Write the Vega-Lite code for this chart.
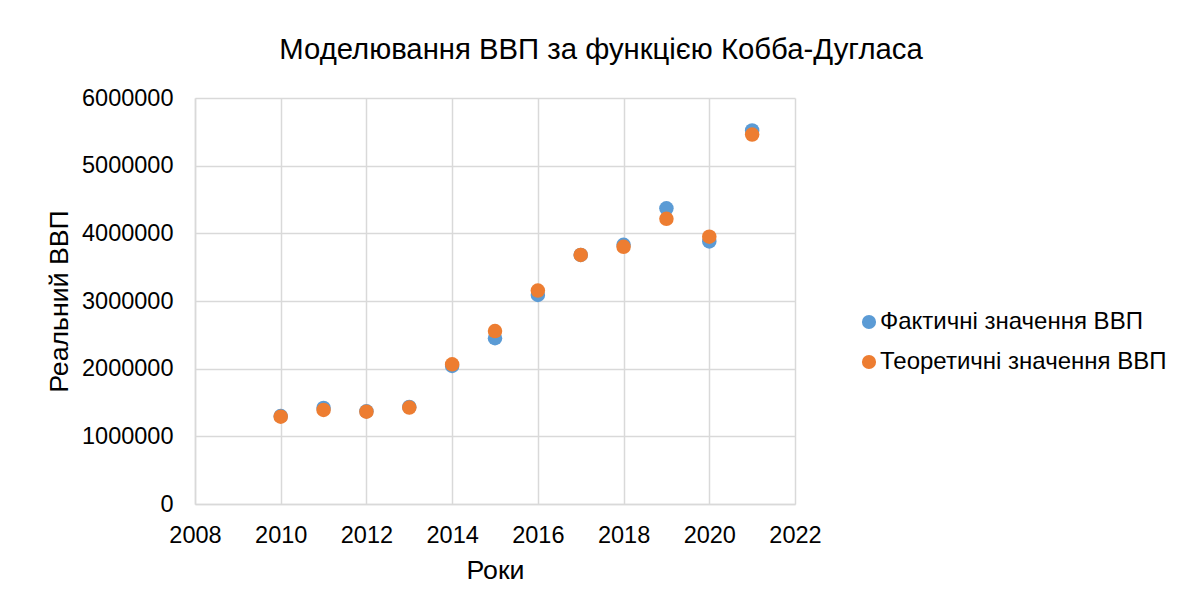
{
  "$schema": "https://vega.github.io/schema/vega-lite/v6.json",
  "width": 600,
  "height": 406,
  "autosize": {"type": "none"},
  "padding": {"left": 195, "top": 98, "right": 387, "bottom": 108},
  "background": "white",
  "config": {
    "font": "Liberation Sans",
    "view": {"stroke": null}
  },
  "title": {
    "text": "Моделювання ВВП за функцією Кобба-Дугласа",
    "fontSize": 29.3,
    "fontWeight": "normal",
    "color": "#000000",
    "anchor": "middle",
    "dx": 106,
    "offset": 21
  },
  "data": {
    "values": [
      {"year": 2010, "value": 1300000, "series": "Фактичні значення ВВП"},
      {"year": 2011, "value": 1420000, "series": "Фактичні значення ВВП"},
      {"year": 2012, "value": 1370000, "series": "Фактичні значення ВВП"},
      {"year": 2013, "value": 1435000, "series": "Фактичні значення ВВП"},
      {"year": 2014, "value": 2040000, "series": "Фактичні значення ВВП"},
      {"year": 2015, "value": 2450000, "series": "Фактичні значення ВВП"},
      {"year": 2016, "value": 3090000, "series": "Фактичні значення ВВП"},
      {"year": 2017, "value": 3680000, "series": "Фактичні значення ВВП"},
      {"year": 2018, "value": 3830000, "series": "Фактичні значення ВВП"},
      {"year": 2019, "value": 4370000, "series": "Фактичні значення ВВП"},
      {"year": 2020, "value": 3880000, "series": "Фактичні значення ВВП"},
      {"year": 2021, "value": 5520000, "series": "Фактичні значення ВВП"},
      {"year": 2010, "value": 1290000, "series": "Теоретичні значення ВВП"},
      {"year": 2011, "value": 1390000, "series": "Теоретичні значення ВВП"},
      {"year": 2012, "value": 1365000, "series": "Теоретичні значення ВВП"},
      {"year": 2013, "value": 1425000, "series": "Теоретичні значення ВВП"},
      {"year": 2014, "value": 2065000, "series": "Теоретичні значення ВВП"},
      {"year": 2015, "value": 2555000, "series": "Теоретичні значення ВВП"},
      {"year": 2016, "value": 3155000, "series": "Теоретичні значення ВВП"},
      {"year": 2017, "value": 3680000, "series": "Теоретичні значення ВВП"},
      {"year": 2018, "value": 3800000, "series": "Теоретичні значення ВВП"},
      {"year": 2019, "value": 4215000, "series": "Теоретичні значення ВВП"},
      {"year": 2020, "value": 3950000, "series": "Теоретичні значення ВВП"},
      {"year": 2021, "value": 5460000, "series": "Теоретичні значення ВВП"}
    ]
  },
  "mark": {"type": "circle", "size": 210, "opacity": 1},
  "encoding": {
    "x": {
      "field": "year",
      "type": "quantitative",
      "scale": {"domain": [2008, 2022], "nice": false, "zero": false},
      "axis": {
        "title": "Роки",
        "titleFontSize": 26.7,
        "titleFontWeight": "normal",
        "titleColor": "#000000",
        "titlePadding": 11,
        "values": [2008, 2010, 2012, 2014, 2016, 2018, 2020, 2022],
        "format": "d",
        "labelFontSize": 23.5,
        "labelColor": "#000000",
        "labelPadding": 19,
        "labelFlush": false,
        "labelOverlap": false,
        "ticks": false,
        "grid": true,
        "gridColor": "#d9d9d9",
        "gridWidth": 1.5,
        "domainColor": "#d9d9d9",
        "domainWidth": 1.5
      }
    },
    "y": {
      "field": "value",
      "type": "quantitative",
      "scale": {"domain": [0, 6000000], "nice": false},
      "axis": {
        "title": "Реальний ВВП",
        "titleFontSize": 26.7,
        "titleFontWeight": "normal",
        "titleColor": "#000000",
        "titlePadding": 8,
        "values": [0, 1000000, 2000000, 3000000, 4000000, 5000000, 6000000],
        "format": "d",
        "labelFontSize": 23.5,
        "labelColor": "#000000",
        "labelPadding": 22,
        "labelFlush": false,
        "labelOverlap": false,
        "ticks": false,
        "grid": true,
        "gridColor": "#d9d9d9",
        "gridWidth": 1.5,
        "domainColor": "#d9d9d9",
        "domainWidth": 1.5
      }
    },
    "color": {
      "field": "series",
      "type": "nominal",
      "sort": ["Фактичні значення ВВП", "Теоретичні значення ВВП"],
      "scale": {
        "domain": ["Фактичні значення ВВП", "Теоретичні значення ВВП"],
        "range": ["#5B9BD5", "#ED7D31"]
      },
      "legend": {
        "title": null,
        "orient": "none",
        "legendX": 662,
        "legendY": 212,
        "symbolType": "circle",
        "symbolSize": 200,
        "symbolOpacity": 1,
        "labelFontSize": 24,
        "labelColor": "#000000",
        "labelLimit": 400,
        "rowPadding": 16,
        "labelOffset": -1
      }
    },
    "order": {"field": "series", "sort": "descending"}
  }
}
